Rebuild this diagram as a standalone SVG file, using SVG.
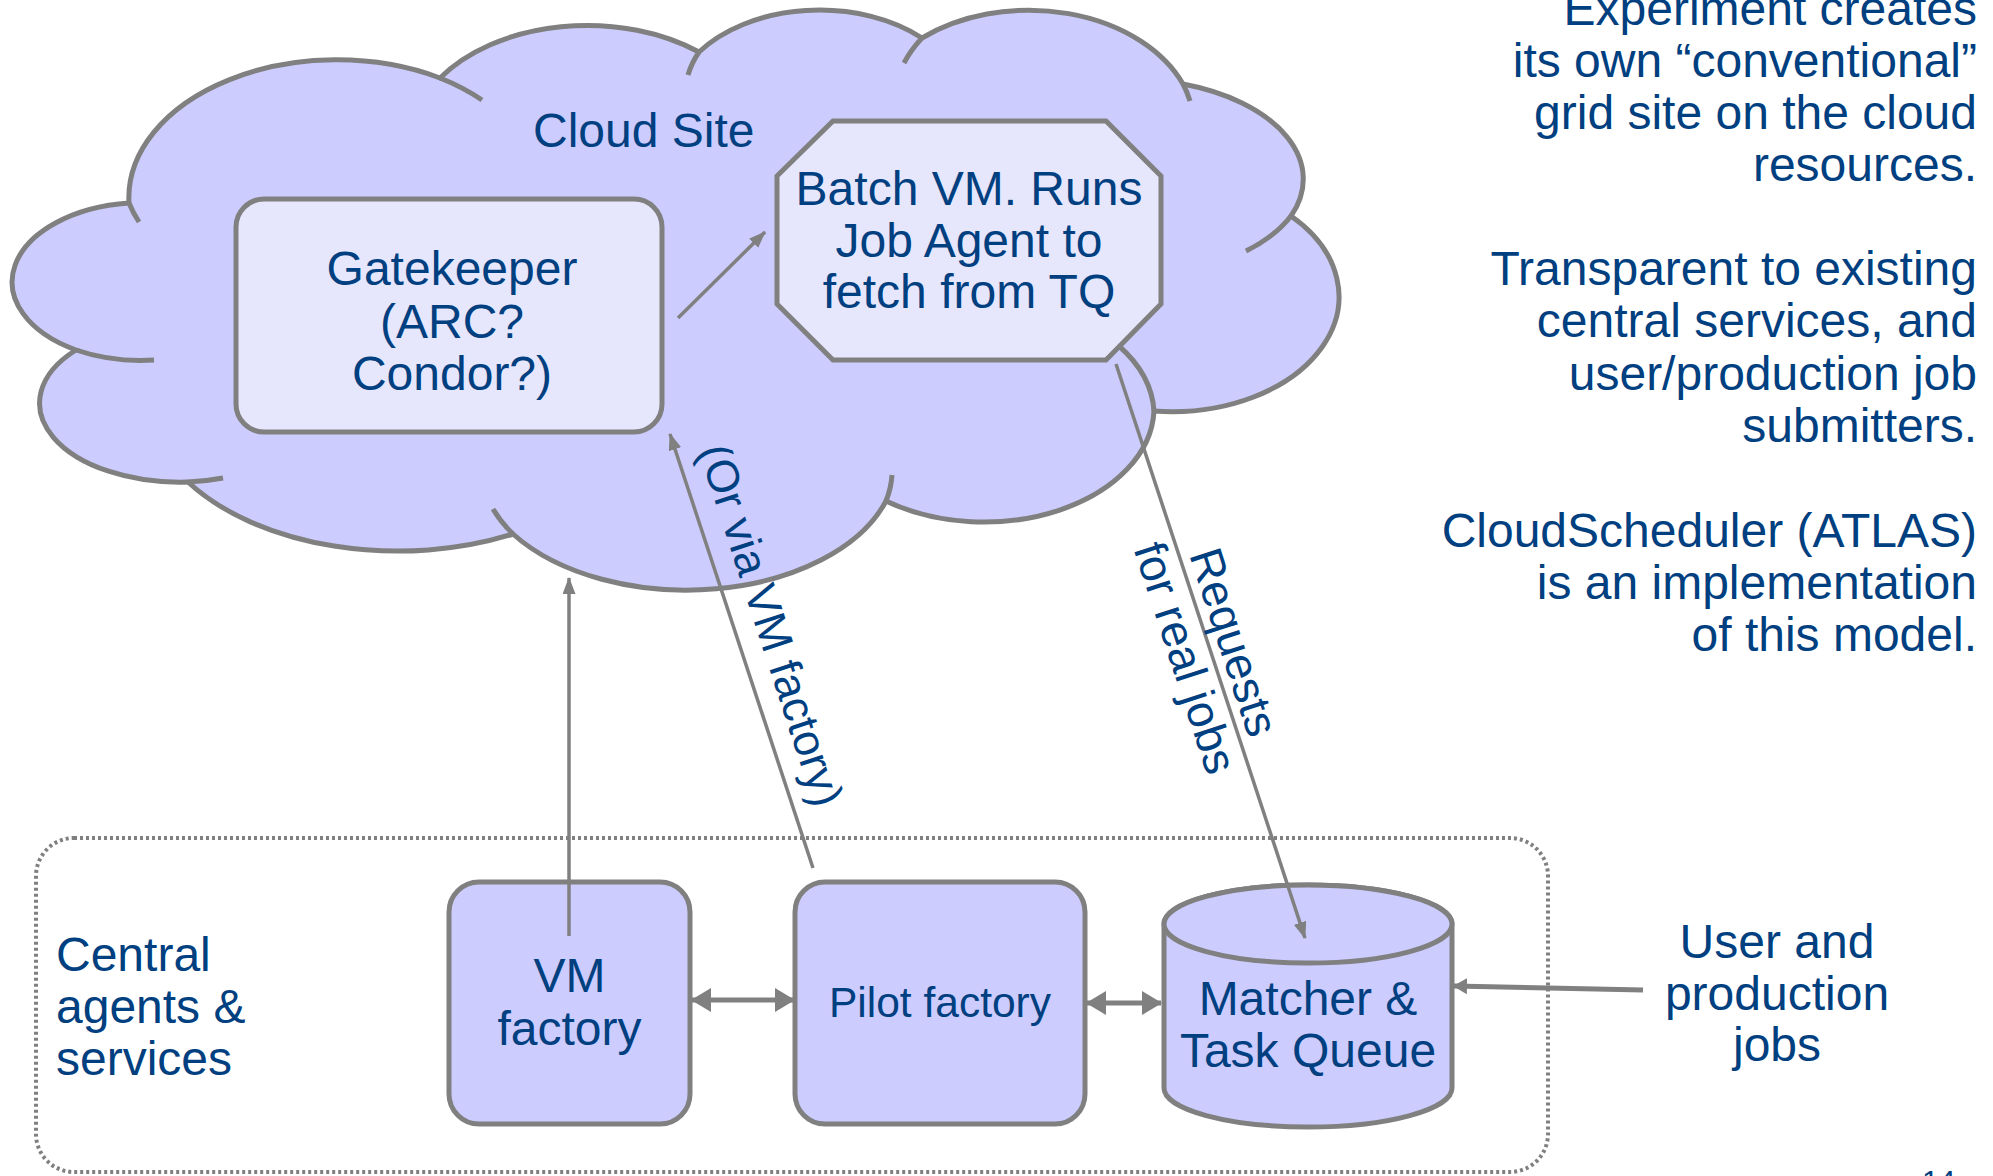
<svg xmlns="http://www.w3.org/2000/svg" width="1993" height="1176" viewBox="0 0 1993 1176">
  <style>
    .t { font-family: "Liberation Sans", Arial, sans-serif; font-size: 48px; fill: #004080; }
    .mid { text-anchor: middle; }
    .end { text-anchor: end; }
    .ln { stroke: #808080; fill: none; }
    .cloud { fill: #CCCCFF; stroke: #808080; stroke-width: 5; }
    .tick { fill: none; stroke: #808080; stroke-width: 5; }
    .inner { fill: #E6E6FC; stroke: #808080; stroke-width: 5; }
    .box { fill: #CCCCFF; stroke: #808080; stroke-width: 5; }
  </style>
  <defs>
    <marker id="ah" viewBox="0 0 17 13" refX="16" refY="6.5" markerWidth="17" markerHeight="13" markerUnits="userSpaceOnUse" orient="auto">
      <path d="M0,0 L17,6.5 L0,13 z" fill="#808080"/>
    </marker>
    <marker id="dh" viewBox="0 0 20 24" refX="19" refY="12" markerWidth="20" markerHeight="24" markerUnits="userSpaceOnUse" orient="auto-start-reverse">
      <path d="M0,0 L20,12 L0,24 z" fill="#808080"/>
    </marker>
    <marker id="uh" viewBox="0 0 14 16" refX="13" refY="8" markerWidth="14" markerHeight="16" markerUnits="userSpaceOnUse" orient="auto">
      <path d="M0,0 L14,8 L0,16 z" fill="#808080"/>
    </marker>
  </defs>

  <rect x="0" y="0" width="1993" height="1176" fill="#FFFFFF"/>

  <g id="cloud-site">
    <path class="cloud" d="M129,203 A208,138 0 0 1 440,78 A178,120 0 0 1 699,52 A148,100 0 0 1 922,38 A167,120 0 0 1 1183,84 A174,100 0 0 1 1291,216 A167,115 0 0 1 1154,411 A170,115 0 0 1 886,501 A210,129 0 0 1 513,534 A251,153 0 0 1 188,482 A140,79 0 0 1 76,350 A131.5,79.4 0 0 1 129,203 Z"/>
    <path class="tick" d="M129,203 A208,138 0 0 0 139,222"/>
    <path class="tick" d="M440,78 A208,138 0 0 1 482,100"/>
    <path class="tick" d="M699,52 A148,100 0 0 0 688,75"/>
    <path class="tick" d="M922,38 A167,120 0 0 0 904,63"/>
    <path class="tick" d="M1183,84 A167,120 0 0 1 1190,101"/>
    <path class="tick" d="M1291,216 A174,100 0 0 1 1246,251"/>
    <path class="tick" d="M1154,411 A170,115 0 0 0 1119,346"/>
    <path class="tick" d="M886,501 A210,129 0 0 0 892,475"/>
    <path class="tick" d="M513,534 A210,129 0 0 1 493,509"/>
    <path class="tick" d="M188,482 A140,79 0 0 0 223,478"/>
    <path class="tick" d="M76,350 A131.5,79.4 0 0 0 154,360"/>
    <text class="t" x="533" y="147">Cloud Site</text>
  </g>

  <g id="gatekeeper">
    <rect class="inner" x="236" y="199" width="426" height="233" rx="28" ry="28"/>
    <text class="t mid" x="452" y="285">Gatekeeper</text>
    <text class="t mid" x="452" y="338">(ARC?</text>
    <text class="t mid" x="452" y="390">Condor?)</text>
  </g>

  <g id="batch-vm">
    <polygon class="inner" points="833,121 1106,121 1161,176 1161,304 1106,360 833,360 777,304 777,176"/>
    <text class="t mid" x="969" y="205">Batch VM. Runs</text>
    <text class="t mid" x="969" y="257">Job Agent to</text>
    <text class="t mid" x="969" y="308">fetch from TQ</text>
  </g>

  <g id="central-services">
    <rect x="36" y="838" width="1512" height="334" rx="38" ry="38" fill="none" stroke="#808080" stroke-width="4" stroke-dasharray="3 3"/>
    <text class="t" x="56" y="971">Central</text>
    <text class="t" x="56" y="1023">agents &amp;</text>
    <text class="t" x="56" y="1075">services</text>
  </g>

  <g id="vm-factory">
    <rect class="box" x="449" y="882" width="241" height="242" rx="30" ry="30"/>
    <text class="t mid" x="569.5" y="992">VM</text>
    <text class="t mid" x="569.5" y="1045">factory</text>
  </g>

  <g id="pilot-factory">
    <rect class="box" x="795" y="882" width="290" height="242" rx="30" ry="30"/>
    <text class="t mid" x="940" y="1017" style="font-size:42.5px">Pilot factory</text>
  </g>

  <g id="matcher">
    <path class="box" d="M1164,924 L1164,1088 A144,39 0 0 0 1452,1088 L1452,924 A144,39 0 0 0 1164,924 Z"/>
    <ellipse cx="1308" cy="924" rx="144" ry="39" fill="#CCCCFF" stroke="#808080" stroke-width="5"/>
    <text class="t mid" x="1308" y="1015">Matcher &amp;</text>
    <text class="t mid" x="1308" y="1067">Task Queue</text>
  </g>

  <g id="user-jobs">
    <text class="t mid" x="1777" y="958">User and</text>
    <text class="t mid" x="1777" y="1010">production</text>
    <text class="t mid" x="1777" y="1061">jobs</text>
  </g>

  <g id="notes">
    <text class="t end" x="1977" y="25">Experiment creates</text>
    <text class="t end" x="1977" y="77">its own “conventional”</text>
    <text class="t end" x="1977" y="129">grid site on the cloud</text>
    <text class="t end" x="1977" y="181">resources.</text>
    <text class="t end" x="1977" y="285">Transparent to existing</text>
    <text class="t end" x="1977" y="337">central services, and</text>
    <text class="t end" x="1977" y="390">user/production job</text>
    <text class="t end" x="1977" y="442">submitters.</text>
    <text class="t end" x="1977" y="547">CloudScheduler (ATLAS)</text>
    <text class="t end" x="1977" y="599">is an implementation</text>
    <text class="t end" x="1977" y="651">of this model.</text>
  </g>

  <g id="page-number">
    <text class="t" x="1922" y="1191" style="font-size:30px">14</text>
  </g>

  <g id="connectors">
    <line class="ln" stroke-width="3.5" x1="678" y1="318" x2="765" y2="232" marker-end="url(#ah)"/>
    <line class="ln" stroke-width="3.5" x1="569" y1="936" x2="569" y2="578" marker-end="url(#ah)"/>
    <line class="ln" stroke-width="3.5" x1="813" y1="868" x2="670" y2="434" marker-end="url(#ah)"/>
    <line class="ln" stroke-width="3.5" x1="1116" y1="364" x2="1305" y2="938" marker-end="url(#ah)"/>
    <line class="ln" stroke-width="5" x1="692" y1="1000" x2="794" y2="1000" marker-start="url(#dh)" marker-end="url(#dh)"/>
    <line class="ln" stroke-width="5" x1="1087" y1="1003" x2="1161" y2="1003" marker-start="url(#dh)" marker-end="url(#dh)"/>
    <line class="ln" stroke-width="5" x1="1643" y1="990" x2="1454" y2="986" marker-end="url(#uh)"/>
    <g transform="translate(768,626) rotate(72)">
      <text class="t mid" x="0" y="12" style="font-size:45px">(Or via VM factory)</text>
    </g>
    <g transform="translate(1209.5,650) rotate(72)">
      <text class="t mid" x="0" y="-10" style="font-size:46px">Requests</text>
      <text class="t mid" x="0" y="41" style="font-size:46px">for real jobs</text>
    </g>
  </g>
</svg>
